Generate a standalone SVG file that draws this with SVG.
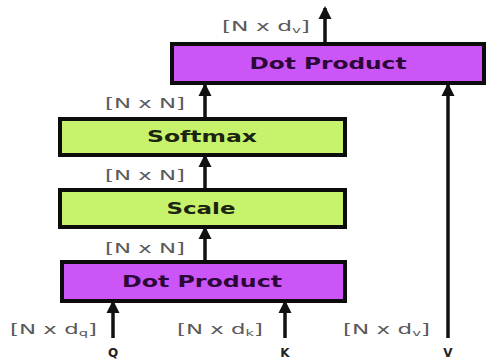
<svg xmlns="http://www.w3.org/2000/svg" width="488" height="359" viewBox="0 0 488 359">
<defs>
<marker id="ah" markerUnits="userSpaceOnUse" markerWidth="14" markerHeight="14" refX="11" refY="7" orient="auto">
<polygon points="0,0.5 13,7 0,13.5" fill="#111"/>
</marker>
<style>
.purple{fill:#cb55f6;stroke:#0c0c0c;stroke-width:4}
.green{fill:#c6f26c;stroke:#0c0c0c;stroke-width:4}
.tp{font-family:"DejaVu Sans",sans-serif;font-weight:bold;font-size:16px;fill:#2b0838;text-anchor:middle}
.tg{font-family:"DejaVu Sans",sans-serif;font-weight:bold;font-size:16px;fill:#1b2410;text-anchor:middle}
.lbl{font-family:"DejaVu Sans",sans-serif;font-size:14px;fill:#5a5a5a}
.io{font-family:"DejaVu Sans",sans-serif;font-weight:bold;font-size:12px;fill:#222;text-anchor:middle}
.sub{font-size:9px}
.conn{stroke:#111;stroke-width:3.5;fill:none}
</style>
</defs>
<rect width="488" height="359" fill="#ffffff"/>
<g id="connectors">
<line class="conn" x1="325" y1="42" x2="325" y2="8" marker-end="url(#ah)"/>
<line class="conn" x1="205" y1="117" x2="205" y2="85" marker-end="url(#ah)"/>
<line class="conn" x1="205" y1="188" x2="205" y2="156" marker-end="url(#ah)"/>
<line class="conn" x1="205" y1="260" x2="205" y2="228" marker-end="url(#ah)"/>
<line class="conn" x1="113" y1="338" x2="113" y2="302" marker-end="url(#ah)"/>
<line class="conn" x1="285" y1="338" x2="285" y2="302" marker-end="url(#ah)"/>
<line class="conn" x1="448" y1="338" x2="448" y2="85" marker-end="url(#ah)"/>
</g>
<g id="dot-product-top">
<rect class="purple" x="172" y="44" width="312" height="39"/>
<text class="tp" x="328" y="69" textLength="157" lengthAdjust="spacingAndGlyphs">Dot Product</text>
</g>
<g id="softmax">
<rect class="green" x="60" y="119" width="285" height="36"/>
<text class="tg" x="202" y="142" textLength="110" lengthAdjust="spacingAndGlyphs">Softmax</text>
</g>
<g id="scale">
<rect class="green" x="60" y="190" width="285" height="37"/>
<text class="tg" x="201" y="214" textLength="69" lengthAdjust="spacingAndGlyphs">Scale</text>
</g>
<g id="dot-product-bottom">
<rect class="purple" x="62" y="262" width="283" height="39"/>
<text class="tp" x="202" y="287" textLength="160" lengthAdjust="spacingAndGlyphs">Dot Product</text>
</g>
<g id="labels">
<text class="lbl" x="222" y="31" textLength="88" lengthAdjust="spacingAndGlyphs">[N x d<tspan class="sub" dy="2">v</tspan><tspan dy="-2">]</tspan></text>
<text class="lbl" x="105" y="108" textLength="80" lengthAdjust="spacingAndGlyphs">[N x N]</text>
<text class="lbl" x="105" y="180" textLength="80" lengthAdjust="spacingAndGlyphs">[N x N]</text>
<text class="lbl" x="105" y="253" textLength="80" lengthAdjust="spacingAndGlyphs">[N x N]</text>
<text class="lbl" x="10" y="334" textLength="87" lengthAdjust="spacingAndGlyphs">[N x d<tspan class="sub" dy="2">q</tspan><tspan dy="-2">]</tspan></text>
<text class="lbl" x="177" y="334" textLength="86" lengthAdjust="spacingAndGlyphs">[N x d<tspan class="sub" dy="2">k</tspan><tspan dy="-2">]</tspan></text>
<text class="lbl" x="343" y="334" textLength="87" lengthAdjust="spacingAndGlyphs">[N x d<tspan class="sub" dy="2">v</tspan><tspan dy="-2">]</tspan></text>
</g>
<g id="inputs">
<text class="io" x="113" y="357">Q</text>
<text class="io" x="285" y="357">K</text>
<text class="io" x="448" y="357">V</text>
</g>
</svg>
